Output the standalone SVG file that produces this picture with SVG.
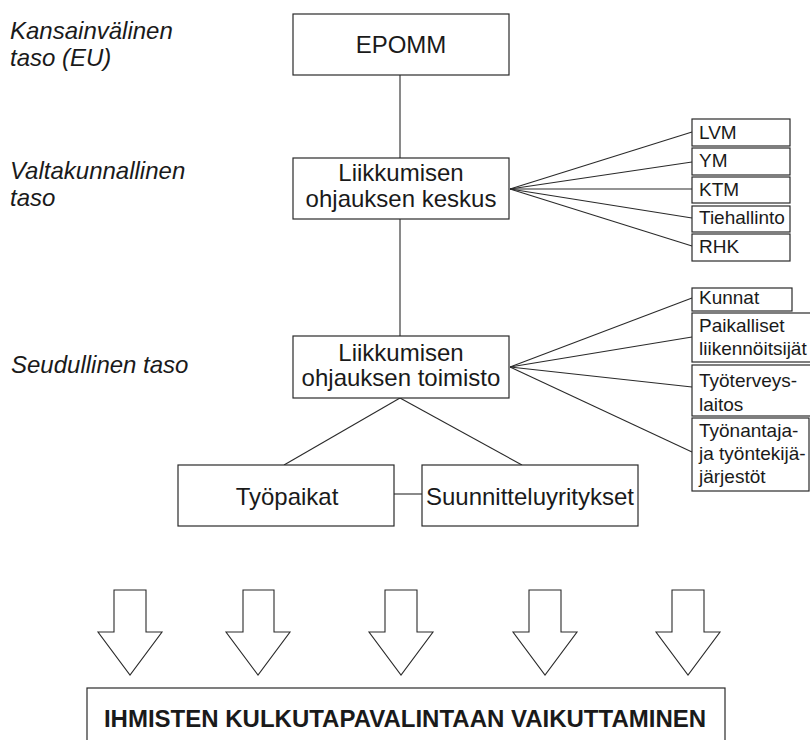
<svg xmlns="http://www.w3.org/2000/svg" width="810" height="740" viewBox="0 0 810 740">
<style>
.box{fill:#fff;stroke:#2a2a2a;stroke-width:1.2}
.ln{fill:none;stroke:#2a2a2a;stroke-width:1.1}
.t{font-family:"Liberation Sans",Arial,sans-serif;font-size:24px;fill:#1a1a1a}
.c{text-anchor:middle}
.s{font-family:"Liberation Sans",Arial,sans-serif;font-size:19px;fill:#1a1a1a}
.lv{font-family:"Liberation Sans",Arial,sans-serif;font-size:24px;font-style:italic;fill:#1a1a1a}
.arrow{fill:#fff;stroke:#2a2a2a;stroke-width:1.1;stroke-linejoin:miter}
.b{font-family:"Liberation Sans",Arial,sans-serif;font-size:24px;font-weight:bold;fill:#1a1a1a;text-anchor:middle}
</style>
<rect width="810" height="740" fill="#fff"/>
<g id="levels">
<text class="lv" x="10" y="39">Kansainvälinen</text>
<text class="lv" x="10" y="66">taso (EU)</text>
<text class="lv" x="10" y="179">Valtakunnallinen</text>
<text class="lv" x="10" y="206">taso</text>
<text class="lv" x="11" y="373">Seudullinen taso</text>
</g>
<g id="connectors">
<line class="ln" x1="400" y1="75" x2="400" y2="158"/>
<line class="ln" x1="400" y1="219" x2="400" y2="336"/>
<line class="ln" x1="510" y1="189" x2="692" y2="132"/>
<line class="ln" x1="510" y1="189" x2="692" y2="162"/>
<line class="ln" x1="510" y1="189" x2="692" y2="189"/>
<line class="ln" x1="510" y1="189" x2="692" y2="218"/>
<line class="ln" x1="510" y1="189" x2="692" y2="246"/>
<line class="ln" x1="510" y1="367" x2="692" y2="298"/>
<line class="ln" x1="510" y1="367" x2="692" y2="337"/>
<line class="ln" x1="510" y1="367" x2="692" y2="387"/>
<line class="ln" x1="510" y1="367" x2="692" y2="452"/>
<line class="ln" x1="400" y1="398" x2="284" y2="465"/>
<line class="ln" x1="400" y1="398" x2="522" y2="465"/>
<line class="ln" x1="394" y1="494" x2="422" y2="494"/>
</g>
<g id="epomm">
<rect class="box" x="293" y="14" width="216" height="61"/>
<text class="t c" x="401" y="53">EPOMM</text>
</g>
<g id="keskus">
<rect class="box" x="293" y="158" width="216" height="61"/>
<text class="t c" x="401" y="181">Liikkumisen</text>
<text class="t c" x="401" y="207">ohjauksen keskus</text>
</g>
<g id="lvm"><rect class="box" x="692" y="119" width="98" height="27"/><text class="s" x="699" y="139">LVM</text></g>
<g id="ym"><rect class="box" x="692" y="148" width="98" height="27"/><text class="s" x="699" y="167">YM</text></g>
<g id="ktm"><rect class="box" x="692" y="177" width="98" height="26"/><text class="s" x="699" y="196">KTM</text></g>
<g id="tiehallinto"><rect class="box" x="692" y="206" width="98" height="26"/><text class="s" x="699" y="224">Tiehallinto</text></g>
<g id="rhk"><rect class="box" x="692" y="234" width="98" height="27"/><text class="s" x="699" y="253">RHK</text></g>
<g id="toimisto">
<rect class="box" x="293" y="336" width="216" height="62"/>
<text class="t c" x="401" y="361">Liikkumisen</text>
<text class="t c" x="401" y="386">ohjauksen toimisto</text>
</g>
<g id="kunnat"><rect class="box" x="692" y="288" width="100" height="23"/><text class="s" x="699" y="304">Kunnat</text></g>
<g id="paikalliset"><rect class="box" x="692" y="313" width="130" height="49"/><text class="s" x="699" y="332">Paikalliset</text><text class="s" x="699" y="355">liikennöitsijät</text></g>
<g id="tyoterveys"><rect class="box" x="692" y="365" width="130" height="51"/><text class="s" x="699" y="387">Työterveys-</text><text class="s" x="699" y="411">laitos</text></g>
<g id="jarjestot"><rect class="box" x="692" y="418" width="117" height="73"/><text class="s" x="699" y="437">Työnantaja-</text><text class="s" x="699" y="460">ja työntekijä-</text><text class="s" x="699" y="483">järjestöt</text></g>
<g id="tyopaikat">
<rect class="box" x="178" y="465" width="216" height="61"/>
<text class="t c" x="287" y="505">Työpaikat</text>
</g>
<g id="suunnittelu">
<rect class="box" x="422" y="465" width="216" height="61"/>
<text class="t c" x="530" y="505">Suunnitteluyritykset</text>
</g>
<g id="arrows">
<polygon class="arrow" points="114,590 146,590 146,632 162,632 130,675 98,632 114,632"/>
<polygon class="arrow" points="243,590 274,590 274,632 290,632 258,675 226,632 243,632"/>
<polygon class="arrow" points="385,590 417,590 417,632 433,632 401,675 369,632 385,632"/>
<polygon class="arrow" points="529,590 561,590 561,632 577,632 545,675 513,632 529,632"/>
<polygon class="arrow" points="672,590 704,590 704,632 720,632 688,675 656,632 672,632"/>
</g>
<g id="result">
<rect class="box" x="87" y="688" width="638" height="70"/>
<text class="b" x="405" y="727">IHMISTEN KULKUTAPAVALINTAAN VAIKUTTAMINEN</text>
</g>
</svg>
